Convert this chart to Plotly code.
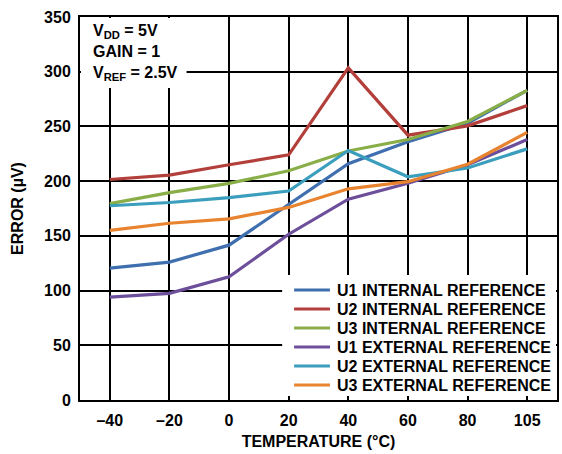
import plotly.graph_objects as go

temps = ["–40", "–20", "0", "20", "40", "60", "80", "105"]

u1_internal = [120.5, 126, 141.5, 179, 216, 236, 253, 283]
u2_internal = [201.5, 205.5, 215, 224, 303.5, 242, 250.5, 269]
u3_internal = [179.5, 189.5, 198, 209.5, 227.5, 238, 254.5, 283]
u1_external = [94, 97.5, 112.5, 151.5, 183.5, 198, 215, 238]
u2_external = [177.5, 180.5, 185, 191, 228, 204, 212, 229.5]
u3_external = [155, 161.5, 165.5, 176, 193, 199.5, 215.5, 244.5]

series = [
    ("U1 INTERNAL REFERENCE", u1_internal, "#3f6faf"),
    ("U2 INTERNAL REFERENCE", u2_internal, "#b33f3b"),
    ("U3 INTERNAL REFERENCE", u3_internal, "#89ae48"),
    ("U1 EXTERNAL REFERENCE", u1_external, "#6c4e9b"),
    ("U2 EXTERNAL REFERENCE", u2_external, "#3b9ebd"),
    ("U3 EXTERNAL REFERENCE", u3_external, "#e8832f"),
]

FONT = "Liberation Sans, Arial, sans-serif"
FS = 16

W, H = 562, 454
ML, MR, MT, MB = 80, 3, 17, 54
PW, PH = W - ML - MR, H - MT - MB


def px_x(px):
    """Page x pixel -> paper fraction."""
    return (px - ML) / PW


def px_y(py):
    """Page y pixel -> paper fraction."""
    return (H - MB - py) / PH


fig = go.Figure()
for name, vals, color in series:
    fig.add_trace(go.Scatter(
        x=temps, y=vals, name=name, mode="lines",
        line=dict(color=color, width=3.2), showlegend=False,
    ))

fig.update_layout(
    width=W, height=H,
    margin=dict(l=ML, r=MR, t=MT, b=MB),
    paper_bgcolor="white", plot_bgcolor="white",
    font=dict(family=FONT, size=FS, color="black"),
    showlegend=False,
    xaxis=dict(
        type="category", categoryorder="array", categoryarray=temps,
        range=[-0.5, 7.5],
        showgrid=True, gridcolor="black", gridwidth=1.5,
        showline=True, linecolor="black", linewidth=2, mirror=True,
        ticks="", ticklabelstandoff=5,
        tickfont=dict(family=FONT, size=FS, weight="bold"),
        title=dict(text="TEMPERATURE (°C)", standoff=8,
                   font=dict(family=FONT, size=FS, weight="bold")),
        zeroline=False,
    ),
    yaxis=dict(
        range=[0, 350], dtick=50,
        showgrid=True, gridcolor="black", gridwidth=1.5,
        showline=True, linecolor="black", linewidth=2, mirror=True,
        ticks="", ticklabelstandoff=4,
        tickfont=dict(family=FONT, size=FS, weight="bold"),
        title=dict(text="ERROR (µV)", standoff=16,
                   font=dict(family=FONT, size=FS, weight="bold")),
        zeroline=False,
    ),
)

# Legend panel: white block over the grid (short grid stubs stay visible
# along the bottom axis), then line samples and labels
fig.add_shape(
    type="rect", xref="paper", yref="paper", layer="above",
    x0=px_x(283), x1=px_x(558), y0=px_y(396), y1=px_y(275),
    fillcolor="white", line=dict(width=0),
)
for i, (name, _vals, color) in enumerate(series):
    yy = px_y(290 + 19 * i)
    fig.add_shape(
        type="line", xref="paper", yref="paper", layer="above",
        x0=px_x(295), x1=px_x(331), y0=yy, y1=yy,
        line=dict(color=color, width=3.2),
    )
    fig.add_annotation(
        xref="paper", yref="paper", x=px_x(336), y=yy,
        xanchor="left", yanchor="middle", showarrow=False,
        text=f"<b>{name}</b>",
        font=dict(family=FONT, size=FS, color="black"),
    )

# Test-condition note in the upper-left corner on its own white panel
fig.add_shape(
    type="rect", xref="paper", yref="paper", layer="above",
    x0=px_x(81), x1=px_x(187), y0=px_y(88), y1=px_y(18),
    fillcolor="white", line=dict(width=0),
)
fig.add_annotation(
    xref="paper", yref="paper", x=px_x(91), y=px_y(20),
    xanchor="left", yanchor="top", align="left", showarrow=False,
    text="<b>V<sub>DD</sub> = 5V<br>GAIN = 1<br>V<sub>REF</sub> = 2.5V</b>",
    font=dict(family=FONT, size=FS, color="black"),
)

fig.write_html("out.html")
